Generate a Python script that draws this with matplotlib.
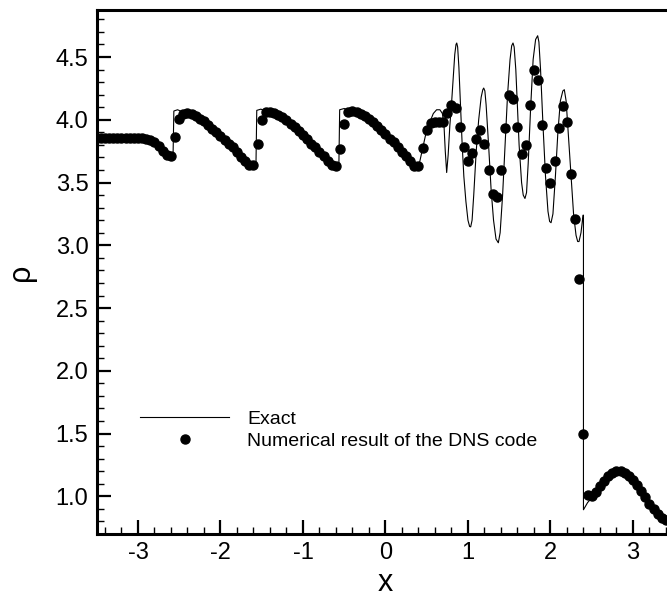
import matplotlib
matplotlib.use("Agg")
import matplotlib.pyplot as plt
from matplotlib.ticker import MultipleLocator, FormatStrFormatter

plt.rcParams['font.family'] = ['Liberation Sans', 'DejaVu Sans']
plt.rcParams['axes.unicode_minus'] = False

# ---- numerical result (DNS code), grid spacing 0.05 ----
num_x = [-3.50, -3.45, -3.40, -3.35, -3.30, -3.25, -3.20, -3.15, -3.10, -3.05,
         -3.00, -2.95, -2.90, -2.85, -2.80, -2.75, -2.70, -2.65, -2.60, -2.55,
         -2.50, -2.45, -2.40, -2.35, -2.30, -2.25, -2.20, -2.15, -2.10, -2.05,
         -2.00, -1.95, -1.90, -1.85, -1.80, -1.75, -1.70, -1.65, -1.60, -1.55,
         -1.50, -1.45, -1.40, -1.35, -1.30, -1.25, -1.20, -1.15, -1.10, -1.05,
         -1.00, -0.95, -0.90, -0.85, -0.80, -0.75, -0.70, -0.65, -0.60, -0.55,
         -0.50, -0.45, -0.40, -0.35, -0.30, -0.25, -0.20, -0.15, -0.10, -0.05,
         0.00, 0.05, 0.10, 0.15, 0.20, 0.25, 0.30, 0.35, 0.40, 0.45,
         0.50, 0.55, 0.60, 0.65, 0.70, 0.75, 0.80, 0.85, 0.90, 0.95,
         1.00, 1.05, 1.10, 1.15, 1.20, 1.25, 1.30, 1.35, 1.40, 1.45,
         1.50, 1.55, 1.60, 1.65, 1.70, 1.75, 1.80, 1.85, 1.90, 1.95,
         2.00, 2.05, 2.10, 2.15, 2.20, 2.25, 2.30, 2.35, 2.40, 2.45,
         2.50, 2.55, 2.60, 2.65, 2.70, 2.75, 2.80, 2.85, 2.90, 2.95,
         3.00, 3.05, 3.10, 3.15, 3.20, 3.25, 3.30, 3.35, 3.40, 3.45]
num_rho = [3.857, 3.857, 3.857, 3.857, 3.857, 3.857, 3.857, 3.857, 3.857, 3.857,
           3.856, 3.855, 3.850, 3.840, 3.820, 3.790, 3.750, 3.720, 3.715, 3.860,
           4.010, 4.050, 4.055, 4.045, 4.030, 4.010, 3.990, 3.960, 3.930, 3.900,
           3.870, 3.840, 3.810, 3.780, 3.740, 3.700, 3.670, 3.640, 3.640, 3.810,
           4.000, 4.060, 4.065, 4.055, 4.040, 4.020, 4.000, 3.970, 3.940, 3.910,
           3.880, 3.850, 3.810, 3.780, 3.740, 3.710, 3.670, 3.640, 3.630, 3.770,
           3.970, 4.060, 4.070, 4.065, 4.050, 4.030, 4.010, 3.980, 3.950, 3.920,
           3.890, 3.850, 3.820, 3.780, 3.740, 3.710, 3.670, 3.630, 3.630, 3.775,
           3.917, 3.975, 3.985, 3.985, 3.980, 4.054, 4.116, 4.094, 3.943, 3.780,
           3.672, 3.736, 3.850, 3.922, 3.811, 3.598, 3.407, 3.381, 3.604, 3.938,
           4.195, 4.169, 3.943, 3.731, 3.797, 4.116, 4.400, 4.315, 3.962, 3.612,
           3.497, 3.672, 3.935, 4.108, 3.983, 3.572, 3.213, 2.728, 1.496, 1.010,
           1.000, 1.037, 1.084, 1.126, 1.161, 1.185, 1.198, 1.199, 1.187, 1.164,
           1.130, 1.088, 1.041, 0.992, 0.942, 0.896, 0.858, 0.827, 0.808, 0.800]

# ---- exact (reference) solution ----
exact_x = [-3.50, -3.00, -2.90, -2.80, -2.70, -2.64, -2.60, -2.575, -2.565, -2.52,
           -2.45, -2.30, -2.10, -1.90, -1.75, -1.66, -1.60, -1.570, -1.560, -1.51,
           -1.44, -1.30, -1.10, -0.90, -0.75, -0.66, -0.60, -0.565, -0.555, -0.50,
           -0.43, -0.30, -0.10, 0.10, 0.25, 0.34, 0.40, 0.45, 0.50, 0.55,
           0.58, 0.62, 0.66, 0.69, 0.71, 0.725, 0.742, 0.76, 0.78, 0.80,
           0.82, 0.84, 0.855, 0.864, 0.875, 0.89, 0.91, 0.93, 0.95, 0.975,
           1.00, 1.02, 1.033, 1.05, 1.07, 1.10, 1.13, 1.16, 1.18, 1.191,
           1.205, 1.22, 1.25, 1.28, 1.31, 1.34, 1.368, 1.39, 1.42, 1.45,
           1.48, 1.51, 1.53, 1.546, 1.56, 1.58, 1.60, 1.62, 1.65, 1.67,
           1.691, 1.71, 1.73, 1.76, 1.79, 1.82, 1.845, 1.86, 1.88, 1.91,
           1.94, 1.97, 1.99, 2.007, 2.03, 2.06, 2.09, 2.12, 2.15, 2.168,
           2.19, 2.22, 2.25, 2.28, 2.31, 2.33, 2.346, 2.37, 2.395, 2.40,
           2.40, 2.45, 2.50, 2.55, 2.60, 2.65, 2.70, 2.75, 2.80, 2.85,
           2.90, 2.95, 3.00, 3.05, 3.10, 3.15, 3.20, 3.25, 3.30, 3.35,
           3.40, 3.45, 3.50]
exact_rho = [3.857, 3.857, 3.850, 3.820, 3.750, 3.715, 3.700, 3.705, 4.070, 4.080,
             4.060, 4.030, 3.930, 3.810, 3.700, 3.640, 3.625, 3.625, 4.075, 4.085,
             4.065, 4.040, 3.940, 3.810, 3.710, 3.640, 3.620, 3.620, 4.080, 4.090,
             4.070, 4.050, 3.950, 3.820, 3.710, 3.625, 3.620, 3.770, 3.920, 4.000,
             4.050, 4.080, 4.080, 4.050, 3.950, 3.750, 3.580, 3.720, 3.950, 4.120,
             4.320, 4.520, 4.600, 4.612, 4.580, 4.420, 4.100, 3.800, 3.550, 3.350,
             3.200, 3.150, 3.147, 3.200, 3.400, 3.750, 4.000, 4.180, 4.240, 4.253,
             4.230, 4.120, 3.800, 3.450, 3.200, 3.050, 3.020, 3.100, 3.400, 3.800,
             4.200, 4.480, 4.590, 4.612, 4.580, 4.400, 4.100, 3.800, 3.500, 3.400,
             3.373, 3.420, 3.650, 4.100, 4.480, 4.640, 4.670, 4.620, 4.400, 3.950,
             3.550, 3.270, 3.190, 3.180, 3.250, 3.550, 3.900, 4.150, 4.230, 4.240,
             4.150, 3.850, 3.550, 3.250, 3.080, 3.030, 3.030, 3.100, 3.240, 3.240,
             0.893, 0.950, 0.987, 1.037, 1.084, 1.126, 1.161, 1.185, 1.198, 1.199,
             1.187, 1.164, 1.130, 1.088, 1.041, 0.992, 0.942, 0.896, 0.858, 0.827,
             0.808, 0.800, 0.805]

x_ticks = [-3, -2, -1, 0, 1, 2, 3]
y_ticks = [1.0, 1.5, 2.0, 2.5, 3.0, 3.5, 4.0, 4.5]

fig = plt.figure(figsize=(6.67, 6.05), dpi=100)
ax = fig.add_axes([0.145, 0.1174, 0.8658, 0.8661])

ax.plot(exact_x, exact_rho, color='black', lw=0.8, label='Exact', zorder=2)
ax.plot(num_x, num_rho, linestyle='none', marker='o', ms=6.5, color='black',
        label='Numerical result of the DNS code', zorder=3)

ax.set_xlim(-3.5, 3.5)
ax.set_ylim(0.7, 4.875)
ax.set_xticks(x_ticks)
ax.set_yticks(y_ticks)
ax.xaxis.set_minor_locator(MultipleLocator(0.2))
ax.yaxis.set_minor_locator(MultipleLocator(0.1))
ax.xaxis.set_major_formatter(FormatStrFormatter('%d'))
ax.yaxis.set_major_formatter(FormatStrFormatter('%.1f'))

for s in ['left', 'bottom', 'top']:
    ax.spines[s].set_linewidth(2.2)
ax.spines['right'].set_visible(False)
ax.tick_params(which='major', direction='in', length=10, width=1.6,
               labelsize=17, top=False, right=False, pad=6)
ax.tick_params(which='minor', direction='in', length=5, width=1.0,
               top=False, right=False)

ax.set_xlabel('x', fontsize=22, labelpad=3)
ax.set_ylabel('ρ', fontsize=22, labelpad=14)

leg = ax.legend(loc='upper left', bbox_to_anchor=(140 / 667, 1 - 410 / 605),
                bbox_transform=fig.transFigure, frameon=False, fontsize=14,
                handlelength=4.6, handletextpad=0.9, labelspacing=0.25,
                borderpad=0.0, borderaxespad=0.0)

fig.savefig('out.png', dpi=100)
